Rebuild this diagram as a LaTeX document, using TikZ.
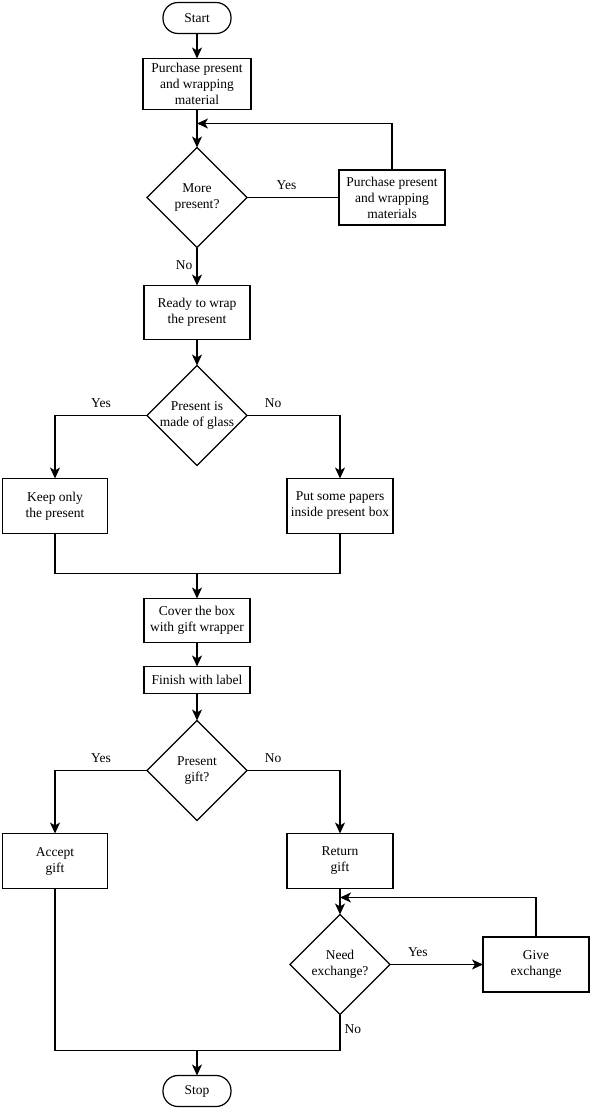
\documentclass[tikz,border=0pt]{standalone}
\usepackage{fontspec}
\setmainfont{Liberation Serif}
\usetikzlibrary{arrows.meta,shapes,positioning,calc}
\tikzset{
    flow/.style={-{Stealth[length=11pt, width=10pt, inset=3pt]}, line width=1.2pt},
    link/.style={line width=1.2pt},
    process/.style={draw, rectangle, line width=1.2pt, align=center, minimum width=106pt, minimum height=55pt, inner sep=2pt, outer sep=0pt},
    decision/.style={draw, diamond, aspect=1, line width=1.2pt, align=center, minimum width=100pt, minimum height=100pt, inner sep=0pt, outer sep=0pt},
    terminal/.style={draw, rectangle, rounded corners=15pt, line width=1.2pt, minimum width=68pt, minimum height=31pt, outer sep=0pt},
    answer/.style={inner sep=4pt, text height=9pt, text depth=3pt}
}

\begin{document}
\begin{tikzpicture}[x=1pt, y=1pt, font=\fontsize{13.5}{16}\selectfont]
    \useasboundingbox (0,0) rectangle (590,-1109);
    \node[terminal] (start) at (197,-18) {Start};
    \node[process, below=25pt of start, minimum height=51pt, minimum width=108pt] (buy) {Purchase present\\and wrapping\\material};
    \coordinate[below=14pt of buy] (loopa);
    \node[decision, below=38pt of buy] (more) {More\\present?};
    \node[process, right=92pt of more] (extra) {Purchase present\\and wrapping\\materials};
    \node[process, below=38pt of more, minimum height=54pt] (ready) {Ready to wrap\\the present};
    \node[decision, below=26pt of ready, inner xsep=-2.5pt] (glass) {Present is\\made of glass};
    \node[process, below=13pt of glass, xshift=-142pt, minimum width=105pt] (keep) {Keep only\\the present};
    \node[process, below=13pt of glass, xshift=143pt] (papers) {Put some papers\\inside present box};
    \node[process, below=133pt of glass, minimum height=44pt] (cover) {Cover the box\\with gift wrapper};
    \coordinate[above=25pt of cover] (mergea);
    \node[process, below=24pt of cover, minimum height=27pt] (label) {Finish with label};
    \node[decision, below=27pt of label] (gift) {Present\\gift?};
    \node[process, below=13pt of gift, xshift=-142pt, minimum width=105pt] (accept) {Accept\\gift};
    \node[process, below=13pt of gift, xshift=143pt] (back) {Return\\gift};
    \coordinate[below=9pt of back] (loopb);
    \node[decision, below=26pt of back] (swap) {Need\\exchange?};
    \node[process, right=93pt of swap] (give) {Give\\exchange};
    \node[terminal, below=255pt of gift] (stop) {Stop};
    \coordinate[above=25pt of stop] (mergeb);

    \draw[flow] (start) -- (buy);
    \draw[flow] (buy) -- (more);
    \draw[link] (more) -- node[answer, above, pos=0.43] {Yes} (extra);
    \draw[flow] (extra) |- (loopa);
    \draw[flow] (more) -- node[answer, left] {No} (ready);
    \draw[flow] (ready) -- (glass);
    \draw[flow] (glass) -| node[answer, above, pos=0.25] {Yes} (keep);
    \draw[flow] (glass) -| node[answer, above, pos=0.14] {No} (papers);
    \draw[link] (keep) |- (mergea) -| (papers);
    \draw[flow] (mergea) -- (cover);
    \draw[flow] (cover) -- (label);
    \draw[flow] (label) -- (gift);
    \draw[flow] (gift) -| node[answer, above, pos=0.25] {Yes} (accept);
    \draw[flow] (gift) -| node[answer, above, pos=0.14] {No} (back);
    \draw[flow] (back) -- (swap);
    \draw[flow] (swap) -- node[answer, above, pos=0.3] {Yes} (give);
    \draw[flow] (give) |- (loopb);
    \draw[link] (accept) |- (mergeb);
    \draw[link] (swap) |- node[answer, right, pos=0.22] {No} (mergeb);
    \draw[flow] (mergeb) -- (stop);
\end{tikzpicture}
\end{document}
